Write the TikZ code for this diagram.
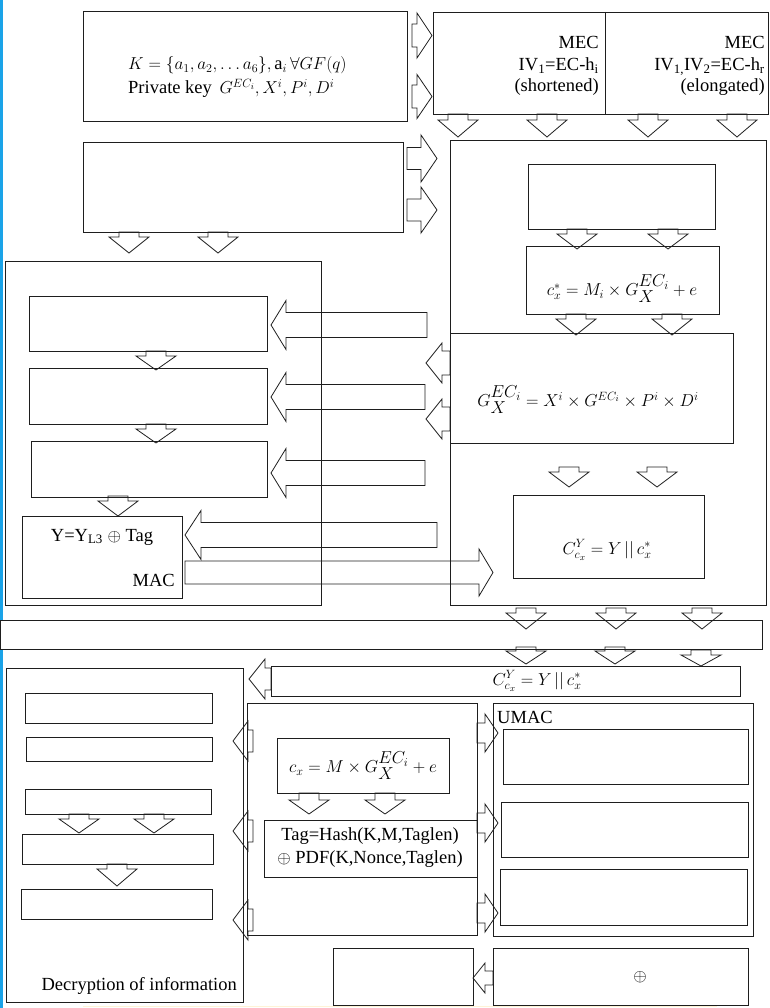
\documentclass[tikz,border=0pt]{standalone}
\usepackage{fontspec}
\setmainfont{Liberation Serif}
\newfontfamily\tnr{Liberation Serif}
\definecolor{edge}{HTML}{1E1E1E}
\definecolor{bl}{HTML}{1AA3E8}
\definecolor{faint}{HTML}{FFF3D6}
\newcommand\bx[6][]{\pgfmathsetmacro\bw{#5-#3}\pgfmathsetmacro\bh{#6-#4}%
  \node[box,#1,minimum width=\bw pt,minimum height=\bh pt] (#2) at ({(#3+#5)/2},{(#4+#6)/2}) {};}
% vertical block arrow: x, y start, y head base, y tip
\newcommand\varr[4]{\draw[blk] ({#1-10},#2) -- ({#1+10},#2) -- ({#1+10},#3) -- ({#1+20},#3) -- (#1,#4) -- ({#1-20},#3) -- ({#1-10},#3) -- cycle;}
% horizontal block arrow: y, x start, x head base, x tip, half shaft, half head
\newcommand\harr[6]{\draw[blk] (#2,{#1-#5}) -- (#3,{#1-#5}) -- (#3,{#1-#6}) -- (#4,#1) -- (#3,{#1+#6}) -- (#3,{#1+#5}) -- (#2,{#1+#5}) -- cycle;}
\begin{document}
\begin{tikzpicture}[x=1pt,y=-1pt,
  box/.style={draw=edge,line width=0.8pt,inner sep=0pt,outer sep=0pt},
  blk/.style={draw=edge,line width=0.8pt,line join=miter},
  txt/.style={inner sep=0pt,font=\tnr\fontsize{18.5}{23}\selectfont}]
\useasboundingbox (0,0) rectangle (769,1008);
% left blue edge and faint bottom line
\draw[bl,line width=2.5pt] (1.25,0) -- (1.25,620);
\draw[bl,line width=2.5pt] (1.25,649) -- (1.25,1008);
\draw[faint,line width=1.5pt] (83,1006.5) -- (717,1006.5);
% boxes
\bx{A}{83}{11}{407}{121}
\bx{MEC}{433}{12}{768}{114}
\coordinate (dvT) at (605,12);
\coordinate (dvB) at (605,114);
\draw[edge,line width=0.8pt] (dvT) -- (dvB);
\bx{B}{83}{142}{403}{232}
\bx{C}{450}{140}{766}{605}
\bx{C1}{528}{164}{715}{229}
\bx{C2}{526}{246}{719}{314}
\bx{C3}{450}{333}{733}{443}
\bx{C4}{513}{495}{704}{578}
\bx{D}{5}{261}{321}{605}
\bx{D1}{29}{296}{267}{351}
\bx{D2}{29}{368}{267}{424}
\bx{D3}{31}{441}{267}{497}
\bx{D4}{22}{516}{182}{598}
\bx[fill=white]{band}{0.5}{620}{762}{649}
\bx{J}{271}{666}{740}{696}
\bx{E}{6}{668}{243}{1002}
\bx{E1}{25}{693}{212}{723}
\bx{E2}{26}{737}{212}{761}
\bx{E3}{25}{789}{211}{814}
\bx{E4}{22}{834}{213}{864}
\bx{E5}{21}{889}{212}{919}
\bx{F}{247}{703}{477}{935}
\bx{F1}{277}{738}{449}{793}
\bx{F2}{264}{820}{477}{877}
\bx{G}{493}{703}{753}{936}
\bx{G1}{503}{729}{748}{784}
\bx{G2}{501}{802}{748}{857}
\bx{G3}{500}{869}{747}{925}
\bx{H}{493}{948}{748}{1005}
\bx{I}{333}{948}{473}{1005}
% arrows A -> MEC
\harr{35.5}{412}{417}{432}{11.5}{22.5}
\harr{96.5}{412}{417}{432}{11.5}{22}
% MEC -> C
\varr{458}{114}{120}{137}
\varr{547}{114}{120}{137}
\varr{648}{114}{120}{137}
\varr{737}{114}{120}{137}
% B -> C
\harr{158.5}{407}{421}{437}{11}{23.5}
\harr{210}{407}{421}{437}{11}{23}
% B -> D
\varr{129}{232}{237}{253}
\varr{218}{232}{237}{253}
% inside C
\varr{577}{229}{234}{249}
\varr{668}{229}{234}{249}
\varr{576}{314}{319}{335}
\varr{672}{314}{319}{335}
\varr{569}{467}{472}{487}
\varr{657}{467}{472}{487}
% C3 left arrows
\harr{363}{450}{442}{426}{12}{20}
\harr{419}{450}{442}{426}{12}{20}
% big arrows into D
\harr{325}{427}{286}{271}{12.5}{24.5}
\harr{397}{425}{286}{271}{12.5}{24.5}
\harr{473}{425}{286}{271}{12.5}{24.5}
\harr{535}{437}{201}{185}{12.5}{24.5}
\harr{572.5}{185}{479}{493}{11.5}{23.5}
% inside D
\varr{156}{351}{356}{370}
\varr{156}{424}{429}{443}
\varr{118}{496}{501}{516}
% C -> band -> J
\varr{526}{608}{613}{629}
\varr{616}{608}{613}{629}
\varr{702}{608}{613}{629}
\varr{526}{647}{651}{664}
\varr{615}{647}{651}{664}
\varr{701}{650}{655}{666}
% J -> E
\harr{679}{271}{265}{249}{11}{20}
% F -> E
\harr{741}{253}{248}{233}{11}{20}
\harr{831}{253}{248}{233}{11}{20}
\harr{920}{253}{248}{233}{11}{20}
% F -> G
\harr{733}{477}{485}{498}{10}{19}
\harr{823}{477}{485}{498}{10}{19}
\harr{913}{477}{485}{498}{10}{19}
% H -> I
\harr{978}{493}{485}{473}{7}{15}
% inside E
\varr{79}{814}{819}{833}
\varr{154}{814}{819}{833}
\varr{117}{864}{869}{886}
% inside F
\varr{309}{793}{800}{814}
\varr{385}{793}{800}{814}
% texts
\node[txt,anchor=base west] (tA1) at (128,70) {$K=\{a_1,a_2,\ldots a_6\},\mathrm{a}_i\,\forall GF(q)$};
\node[txt,anchor=base west] (tA2) at (128,94) {Private key\, $G^{EC_i},X^i,P^i,D^i$};
\node[txt,anchor=base east] (tM1) at (599,49) {MEC};
\node[txt,anchor=base east] (tM2) at (599,71) {IV\textsubscript{1}=EC-h\textsubscript{i}};
\node[txt,anchor=base east] (tM3) at (599,92) {(shortened)};
\node[txt,anchor=base east] (tM4) at (765,49) {MEC};
\node[txt,anchor=base east] (tM5) at (765,71) {IV\textsubscript{1,}IV\textsubscript{2}=EC-h\textsubscript{r}};
\node[txt,anchor=base east] (tM6) at (765,92) {(elongated)};
\node[txt] (tC2) at (622,289) {$c_x^*=M_i\times G^{\textstyle EC_i}_{\textstyle X}+e$};
\node[txt] (tC3) at (588,400) {$G^{\textstyle EC_i}_{\textstyle X}=X^i\times G^{EC_i}\times P^i\times D^i$};
\node[txt] (tC4) at (607,550) {$C^Y_{c_x}=Y\,||\,c_x^*$};
\node[txt] (tJ) at (537,681) {$C^Y_{c_x}=Y\,||\,c_x^*$};
\node[txt] (tD4) at (102,537) {Y=Y\textsubscript{L3} $\oplus$ Tag};
\node[txt,anchor=base east] (tMAC) at (175,586) {MAC};
\node[txt] (tF1) at (363,766) {$c_x=M\times G^{\textstyle EC_i}_{\textstyle X}+e$};
\node[txt,align=center] (tF2) at (370,848) {Tag=Hash(K,M,Taglen)\\$\oplus$ PDF(K,Nonce,Taglen)};
\node[txt,anchor=base east] (tE) at (237,990) {Decryption of information};
\node[txt,anchor=base west] (tG) at (497,723) {UMAC};
\node[txt] (tH) at (640,977) {$\oplus$};
\end{tikzpicture}
\end{document}
